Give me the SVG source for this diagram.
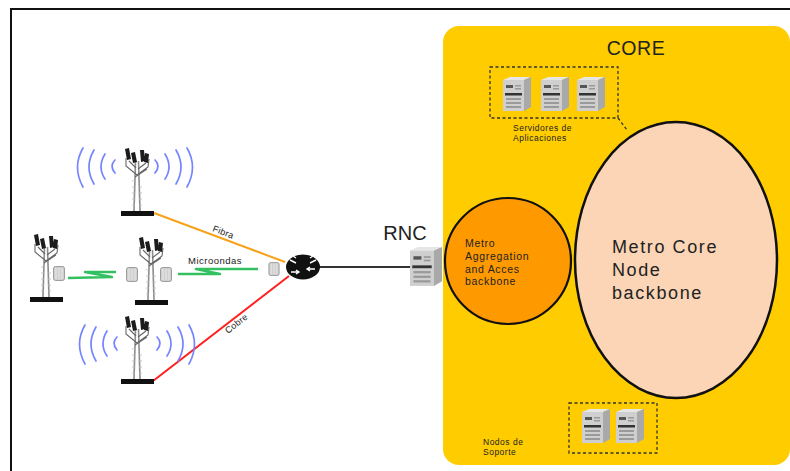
<svg xmlns="http://www.w3.org/2000/svg" xmlns:xlink="http://www.w3.org/1999/xlink" width="790" height="471" viewBox="0 0 790 471">
  <style>
    .lbl { font-family: "Liberation Sans", Arial, sans-serif; fill: #222; }
    .wave { fill: none; stroke: #7585ff; stroke-width: 1.7; stroke-linecap: round; }
    .dash { fill: none; stroke: #333; stroke-width: 1.3; stroke-dasharray: 3 2.5; }
  </style>
  <defs>
    <!-- server tower icon -->
    <symbol id="srv" viewBox="0 0 28 34">
      <polygon points="0,3 7,0 28,0 21,3" fill="#e6e6e6"/>
      <rect x="0" y="3" width="21" height="31" fill="#cfcfcf"/>
      <polygon points="21,3 28,0 28,30 21,34" fill="#a9a9a9"/>
      <rect x="3" y="8" width="7" height="3" fill="#555"/>
      <rect x="12" y="8" width="6" height="1.5" fill="#999"/>
      <rect x="12" y="11" width="6" height="1.5" fill="#999"/>
      <rect x="2" y="16" width="17" height="2.5" fill="#333"/>
      <rect x="3" y="21" width="15" height="2" fill="#9a9a9a"/>
      <rect x="3" y="25" width="15" height="2" fill="#9a9a9a"/>
      <rect x="3" y="29" width="15" height="2" fill="#9a9a9a"/>
    </symbol>
    <!-- radio unit -->
    <symbol id="radio" viewBox="0 0 12 15">
      <rect x="0.5" y="0.5" width="11" height="14" rx="2" fill="#cfcfcf" stroke="#8a8a8a" stroke-width="0.8"/>
      <path d="M3,2 V13 M6,2 V13 M9,2 V13" stroke="#e8e8e8" stroke-width="1"/>
    </symbol>
    <!-- lattice tower, origin at base centre -->
    <g id="tower">
      <path d="M-3,-2 L-1.5,-52 M3,-2 L1.5,-52" stroke="#8c8c8c" stroke-width="1.6" fill="none"/>
      <path d="M-2,-8 h-3 M-2,-14 h-3 M-2,-20 h-3 M-2,-26 h-3 M-2,-32 h-3 M2,-8 h3 M2,-14 h3 M2,-20 h3 M2,-26 h3" stroke="#bbb" stroke-width="0.8"/>
      <path d="M0,-38 L-11,-47 L-11,-55 M0,-38 L11,-46 L12,-54 M-1,-45 L-8,-52 M1,-44 L9,-50 M-2,-36 L10,-44" stroke="#666" stroke-width="1.1" fill="none"/>
      <path d="M-12,-64 l4,-1 l2,11 l-4,1 z M-6,-60 l4,-1 l2,10 l-4,1 z M3,-63 l4,0 l1,11 l-4,1 z M8,-60 l4,1 l-1,9 l-4,-1 z" fill="#1c1c1c"/>
      <rect x="-16" y="-2" width="33" height="5" fill="#111"/>
    </g>
    <!-- radiating signal arcs, origin at arc centre -->
    <g id="waves">
      <path class="wave" d="M-20,-6 Q-26,0 -20,7"/>
      <path class="wave" d="M-30,-12 Q-38,1 -30,13"/>
      <path class="wave" d="M-41,-16 Q-51,1 -41,18"/>
      <path class="wave" d="M-52,-18 Q-63,1 -52,21"/>
      <path class="wave" d="M20,-6 Q26,0 20,7"/>
      <path class="wave" d="M30,-12 Q38,1 30,13"/>
      <path class="wave" d="M41,-16 Q51,1 41,18"/>
      <path class="wave" d="M52,-18 Q63,1 52,21"/>
    </g>
  </defs>

  <rect x="0" y="0" width="790" height="471" fill="#fff"/>
  <!-- outer frame -->
  <path d="M11,471 V9 H790" fill="none" stroke="#111" stroke-width="2"/>

  <!-- core region -->
  <g id="core">
    <rect x="443" y="26" width="347" height="439" rx="16" fill="#ffcc00"/>
    <text class="lbl" x="636" y="55" font-size="19.5" text-anchor="middle" fill="#1a1a1a" letter-spacing="0.6">CORE</text>
  </g>

  <!-- connectors -->
  <g id="connectors">
    <line x1="154" y1="213" x2="285" y2="262" stroke="#f7a21b" stroke-width="2"/>
    <line x1="153" y1="381" x2="289" y2="276" stroke="#ff1f1f" stroke-width="2"/>
    <line x1="318" y1="267" x2="412" y2="267" stroke="#333" stroke-width="2"/>
    <polyline points="68,278 112,277 85,272 116,272" fill="none" stroke="#32c060" stroke-width="2.6" stroke-linejoin="round"/>
    <polyline points="178,274 220,274 196,269 258,269" fill="none" stroke="#32c060" stroke-width="2.6" stroke-linejoin="round"/>
    <line x1="618" y1="118" x2="627" y2="130" class="dash"/>
    <text class="lbl" font-size="9" transform="translate(212,231) rotate(21)" fill="#333" letter-spacing="0.3">Fibra</text>
    <text class="lbl" x="188" y="264" font-size="9.5" fill="#333" letter-spacing="0.5">Microondas</text>
    <text class="lbl" font-size="9" transform="translate(228,334) rotate(-38)" fill="#333" letter-spacing="0.3">Cobre</text>
  </g>

  <!-- radio sites -->
  <g id="site-top">
    <use xlink:href="#waves" x="135" y="166"/>
    <use xlink:href="#tower" x="137" y="213"/>
  </g>
  <g id="site-left">
    <use xlink:href="#tower" x="46" y="299"/>
    <use xlink:href="#radio" x="53" y="266" width="12" height="15"/>
  </g>
  <g id="site-mid">
    <use xlink:href="#tower" x="151" y="302"/>
    <use xlink:href="#radio" x="126" y="267" width="12" height="15"/>
    <use xlink:href="#radio" x="160" y="267" width="12" height="15"/>
  </g>
  <g id="site-bottom">
    <use xlink:href="#waves" x="137" y="343"/>
    <use xlink:href="#tower" x="137" y="381"/>
  </g>

  <!-- aggregation router -->
  <g id="router">
    <use xlink:href="#radio" x="268" y="262" width="12" height="14"/>
    <ellipse cx="303" cy="267" rx="17" ry="12.5" fill="#111"/>
    <path d="M290,260 l6,3 M316,260 l-6,3 M296,258 l-3,-2 M310,258 l3,-2 M291,272 h8 M315,269 h-8 M296,270 l3,2 l-3,2 M310,267 l-3,2 l3,2" stroke="#fff" stroke-width="1.4" fill="none"/>
  </g>

  <!-- RNC -->
  <g id="rnc">
    <text class="lbl" x="405" y="240" font-size="20" text-anchor="middle" fill="#1a1a1a">RNC</text>
    <use xlink:href="#srv" x="410" y="244" width="32" height="45"/>
  </g>

  <!-- metro aggregation ring -->
  <g id="metro-agg">
    <circle cx="508" cy="261" r="63" fill="#ff9900" stroke="#111" stroke-width="2.2"/>
    <text class="lbl" font-size="10.5" fill="#3a2600" letter-spacing="0.7">
      <tspan x="465" y="247">Metro</tspan>
      <tspan x="465" y="260">Aggregation</tspan>
      <tspan x="465" y="273">and Acces</tspan>
      <tspan x="465" y="285">backbone</tspan>
    </text>
  </g>

  <!-- metro core ring -->
  <g id="metro-core">
    <ellipse cx="676" cy="260" rx="101" ry="138" fill="#fbd5b5" stroke="#111" stroke-width="2.5"/>
    <text class="lbl" font-size="18" fill="#2a2a2a" letter-spacing="1.6">
      <tspan x="612" y="253">Metro Core</tspan>
      <tspan x="612" y="276">Node</tspan>
      <tspan x="612" y="299">backbone</tspan>
    </text>
  </g>

  <!-- application servers -->
  <g id="app-servers">
    <rect x="490" y="67" width="128" height="51" class="dash"/>
    <use xlink:href="#srv" x="503" y="77" width="28" height="34"/>
    <use xlink:href="#srv" x="541" y="77" width="28" height="34"/>
    <use xlink:href="#srv" x="577" y="77" width="28" height="34"/>
    <text class="lbl" font-size="8.5" fill="#3a2a00" letter-spacing="0.5">
      <tspan x="513" y="131">Servidores de</tspan>
      <tspan x="513" y="141">Aplicaciones</tspan>
    </text>
  </g>

  <!-- support nodes -->
  <g id="support-nodes">
    <rect x="569" y="403" width="88" height="50" class="dash"/>
    <use xlink:href="#srv" x="582" y="409" width="28" height="34"/>
    <use xlink:href="#srv" x="616" y="409" width="28" height="34"/>
    <text class="lbl" font-size="8.5" fill="#1a1a00" letter-spacing="0.5">
      <tspan x="483" y="445">Nodos de</tspan>
      <tspan x="483" y="455">Soporte</tspan>
    </text>
  </g>
</svg>
